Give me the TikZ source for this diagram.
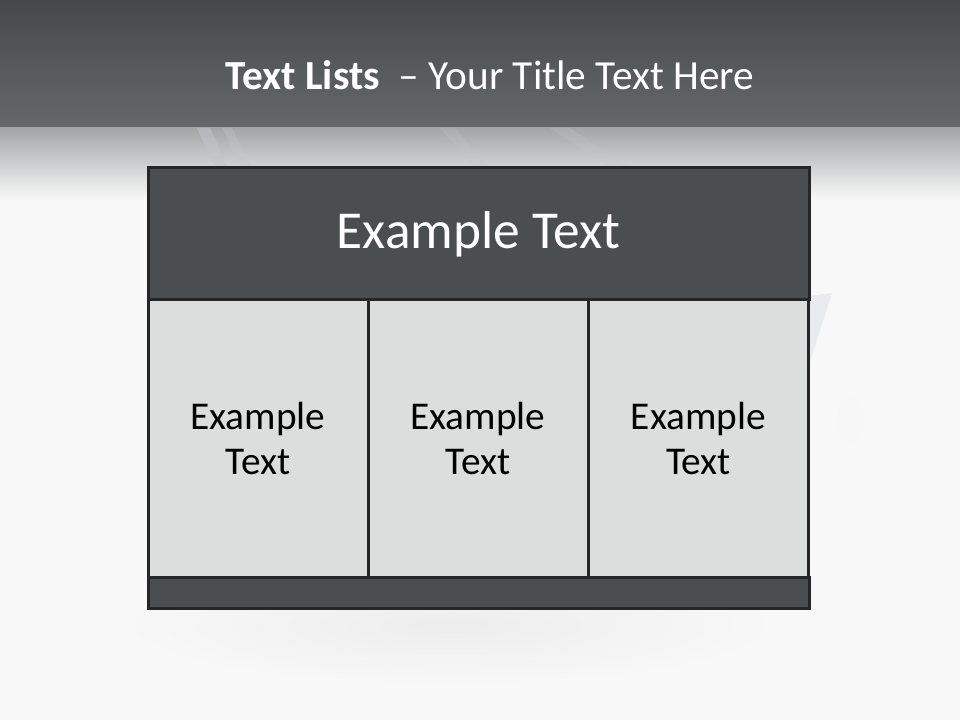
\documentclass[tikz,border=0pt]{standalone}
\usepackage{fontspec}
\setmainfont{Carlito}
\usetikzlibrary{positioning}
\definecolor{bandtop}{HTML}{45494A}
\definecolor{bandlow}{HTML}{646968}
\definecolor{fadegray}{HTML}{A3A6A7}
\definecolor{pagebg}{HTML}{F8F8F8}
\definecolor{headfill}{HTML}{4A4E4F}
\definecolor{rulecol}{HTML}{252727}
\definecolor{cellfill}{HTML}{DCDEDD}
\definecolor{streak}{HTML}{C3C6CA}
\tikzset{
  headbox/.style = {draw = rulecol, line width = 2.25pt, fill = headfill, text = white, minimum width = 495.75pt, inner sep = 0pt, font = \fontsize{40}{48}\selectfont},
  cellbox/.style = {draw = rulecol, line width = 2.25pt, fill = cellfill, text = black, minimum width = 165pt, minimum height = 207.75pt, inner sep = 0pt, align = center, font = \fontsize{29.5}{34}\selectfont},
}
\begin{document}
\begin{tikzpicture}[x = 0.75pt, y = -0.75pt]
        \useasboundingbox (0,0) rectangle (960,720);
        % background
        \path[fill = pagebg](0,0)rectangle(960,720);
        \path[inner color = black!7, outer color = pagebg](450,625)ellipse[x radius = 330, y radius = 60];
        \path[inner color = black!3, outer color = pagebg](850,420)ellipse[x radius = 60, y radius = 100];
        \path[top color = bandtop, bottom color = bandlow](0,0)rectangle(960,128);
        \path[top color = fadegray, bottom color = pagebg](0,128)rectangle(960,200);
        \path[fill = streak, opacity = 0.5](197,128)--(210,128)--(228,168)--(215,168)--cycle;
        \path[fill = streak, opacity = 0.35](222,128)--(232,128)--(252,168)--(242,168)--cycle;
        \path[fill = streak, opacity = 0.25](440,128)--(455,128)--(490,168)--(475,168)--cycle;
        \path[fill = streak, opacity = 0.25](550,128)--(570,128)--(630,168)--(610,168)--cycle;
        \path[fill = streak, opacity = 0.25](810,296)--(832,293)--(810,362)--cycle;
        % title
        \node[text = white, font = \fontsize{31}{37}\selectfont](title)at(490,75){\textbf{Text Lists}\ \ -- Your Title Text Here};
        % table
        \node[headbox, minimum height = 99pt](head)at(478.5,234){Example Text};
        \node[cellbox](cellA)at(258,438.5){Example\\Text};
        \node[cellbox](cellB)at(478,438.5){Example\\Text};
        \node[cellbox](cellC)at(698.5,438.5){Example\\Text};
        \node[headbox, minimum height = 23.25pt](foot)at(478.5,592.5){};
    \end{tikzpicture}
\end{document}
